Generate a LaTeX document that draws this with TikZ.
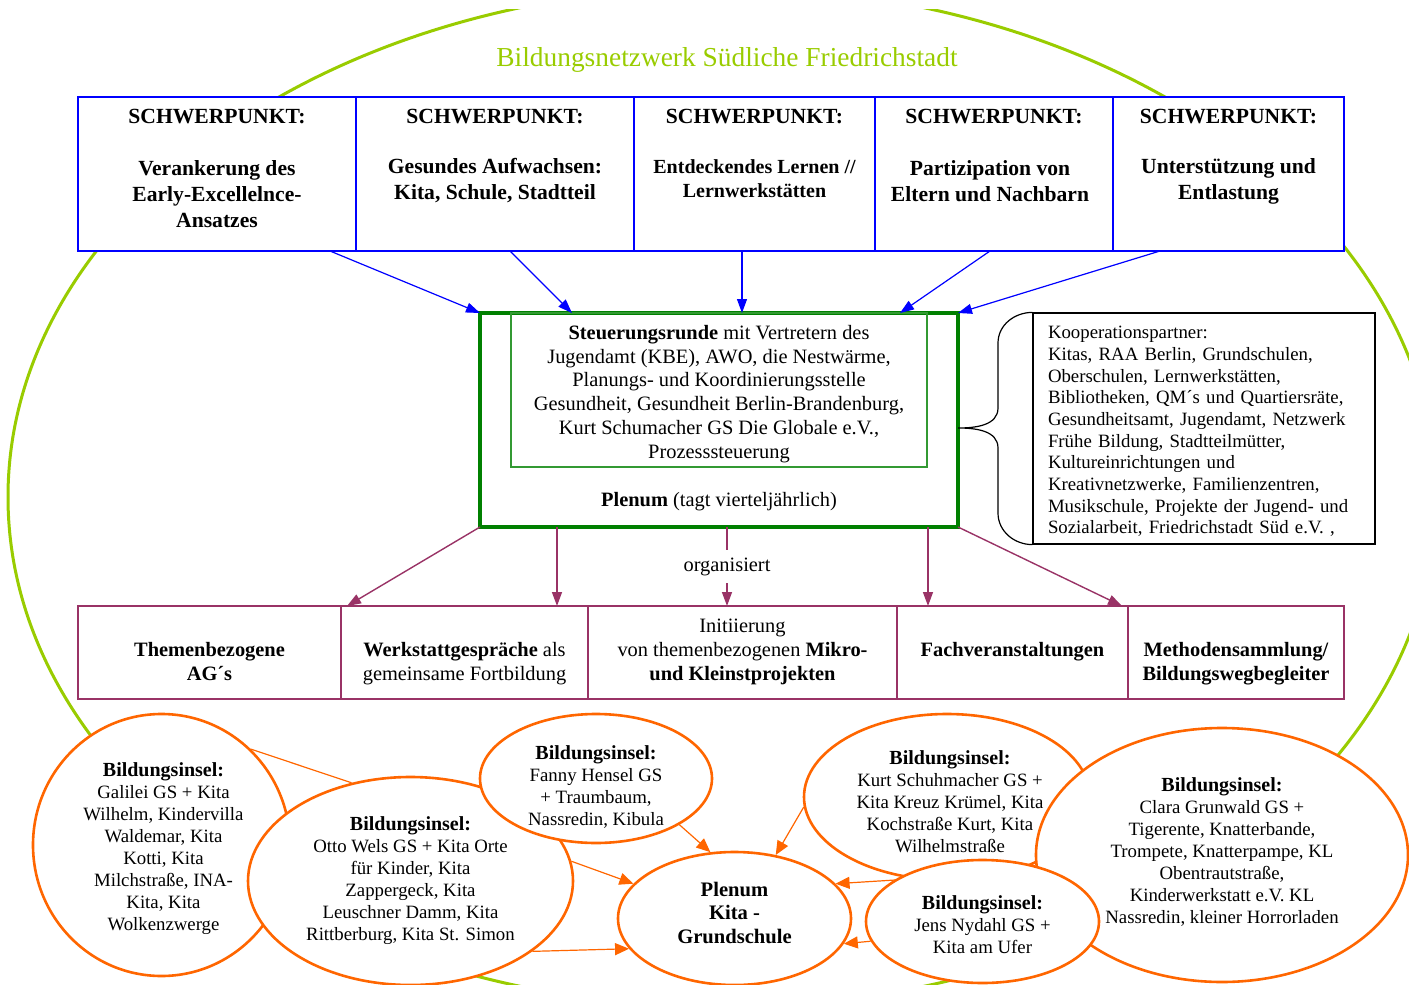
\documentclass[tikz,border=0pt]{standalone}
\usepackage{fontspec}
\setmainfont{Liberation Serif}
\usetikzlibrary{positioning, arrows.meta, shapes.geometric}

\definecolor{netgreen}{HTML}{99CC00}
\definecolor{rundegreen}{HTML}{008000}
\definecolor{steuergreen}{HTML}{339933}
\definecolor{agplum}{HTML}{993366}
\definecolor{inselorange}{HTML}{FF6600}

\begin{document}
\begin{tikzpicture}[x=0.5pt, y=-0.5pt, >={Triangle[length=7pt, width=5pt]}]

% Styles
\tikzstyle{spbox}    = [draw=blue, line width=1pt, fill=white, rectangle, minimum height=77pt, inner sep=0pt, outer sep=0pt]
\tikzstyle{sptext}   = [align=center, inner sep=0pt, font=\fontsize{10.8}{13}\selectfont\bfseries]
\tikzstyle{runde}    = [draw=rundegreen, line width=2pt, fill=white, rectangle, minimum width=239pt, minimum height=107pt, outer sep=0pt]
\tikzstyle{steuer}   = [draw=steuergreen, line width=0.75pt, rectangle, minimum width=208pt, minimum height=77pt, inner sep=0pt, outer sep=0pt]
\tikzstyle{steuertext} = [align=center, inner sep=0pt, font=\fontsize{10.2}{11.9}\selectfont]
\tikzstyle{koopbox}  = [draw, line width=0.6pt, fill=white, rectangle, minimum width=171pt, minimum height=115.5pt]
\tikzstyle{kooptext} = [text width=156pt, inner sep=0pt, align=left, font=\fontsize{9.4}{10.85}\selectfont]
\tikzstyle{cellbox}  = [draw=agplum, line width=1pt, fill=white, rectangle, minimum height=46.5pt, inner sep=0pt, outer sep=0pt]
\tikzstyle{celltext} = [align=center, inner sep=0pt, font=\fontsize{10.2}{12}\selectfont]
\tikzstyle{cellbold} = [align=center, inner sep=0pt, font=\fontsize{10.2}{12}\selectfont\bfseries]
\tikzstyle{insel}    = [ellipse, draw=inselorange, line width=1.3pt, fill=white, inner sep=0pt]
\tikzstyle{inseltext} = [align=center, inner sep=0pt, font=\fontsize{9.4}{11}\selectfont]
\tikzstyle{inselarrow} = [->, >={Triangle[length=7pt, width=6pt]}, inselorange, line width=0.6pt]

% Frame
\useasboundingbox (0,0) rectangle (1409,985);
\clip (0,0) rectangle (1409,985);

% Network outline
\begin{scope}
  \clip (0,9) rectangle (1409,985);
  \draw[netgreen, line width=1.5pt] (722,497) ellipse [x radius=714, y radius=510];
\end{scope}
\node[text=netgreen, font=\fontsize{13.7}{16}\selectfont] (title) at (727,60) {Bildungsnetzwerk Südliche Friedrichstadt};

% Schwerpunkte
\node[spbox, minimum width=139pt] (sp1) at (217,174) {};
\node[spbox, minimum width=139pt, right=0pt of sp1] (sp2) {};
\node[spbox, minimum width=120.5pt, right=0pt of sp2] (sp3) {};
\node[spbox, minimum width=119pt, right=0pt of sp3] (sp4) {};
\node[spbox, minimum width=115.5pt, right=0pt of sp4] (sp5) {};

\node[sptext] (head1) at ([yshift=-10pt]sp1.north) {SCHWERPUNKT:};
\node[sptext] (head2) at ([yshift=-10pt]sp2.north) {SCHWERPUNKT:};
\node[sptext] (head3) at ([yshift=-10pt]sp3.north) {SCHWERPUNKT:};
\node[sptext] (head4) at ([yshift=-10pt]sp4.north) {SCHWERPUNKT:};
\node[sptext] (head5) at ([yshift=-10pt]sp5.north) {SCHWERPUNKT:};

\node[sptext] (body1) at ([yshift=-48.5pt]sp1.north) {Verankerung des\\Early-Excellelnce-\\Ansatzes};
\node[sptext] (body2) at ([yshift=-42pt]sp2.north) {Gesundes Aufwachsen:\\Kita, Schule, Stadtteil};
\node[sptext, font=\fontsize{10}{12}\selectfont\bfseries] (body3) at ([yshift=-41pt]sp3.north) {Entdeckendes Lernen //\\Lernwerkstätten};
\node[sptext] (body4) at ([xshift=-2pt, yshift=-42pt]sp4.north) {Partizipation von\\Eltern und Nachbarn};
\node[sptext] (body5) at ([yshift=-42pt]sp5.north) {Unterstützung und\\Entlastung};

% Steuerungsrunde und Plenum
\node[runde] (runde) at (719,420) {};
\node[steuer, anchor=north] (steuer) at (runde.north) {};
\node[steuertext] (steuertext) at ([yshift=-2pt]steuer.center) {\textbf{Steuerungsrunde} mit Vertretern des\\Jugendamt (KBE), AWO, die Nestwärme,\\Planungs- und Koordinierungsstelle\\Gesundheit, Gesundheit Berlin-Brandenburg,\\Kurt Schumacher GS Die Globale e.V.,\\Prozesssteuerung};
\node[font=\fontsize{10.2}{12}\selectfont] (plenum) at ([yshift=12.5pt]runde.south) {\textbf{Plenum} (tagt vierteljährlich)};

% Schwerpunkte -> Steuerungsrunde
\draw[->, blue, line width=0.6pt] ([xshift=56.5pt]sp1.south) -- (runde.north west);
\draw[->, blue, line width=0.6pt] ([xshift=7.5pt]sp2.south) -- ([xshift=-73.5pt]runde.north);
\draw[->, blue, line width=0.6pt] ([xshift=-6.25pt]sp3.south) -- ([xshift=11.5pt]runde.north);
\draw[->, blue, line width=0.6pt] ([xshift=-2pt]sp4.south) -- ([xshift=90.5pt]runde.north);
\draw[->, blue, line width=0.6pt] ([xshift=-34.25pt]sp5.south) -- (runde.north east);

% Kooperationspartner
\node[koopbox] (koop) at (1204,428.5) {};
\node[kooptext] (kooptext) at ([yshift=-1.5pt]koop.center) {Kooperationspartner:\\Kitas, RAA Berlin, Grundschulen,\\Oberschulen, Lernwerkstätten,\\Bibliotheken, QM´s und Quartiersräte,\\Gesundheitsamt, Jugendamt, Netzwerk\\Frühe Bildung, Stadtteilmütter,\\Kultureinrichtungen und\\Kreativnetzwerke, Familienzentren,\\Musikschule, Projekte der Jugend- und\\Sozialarbeit, Friedrichstadt Süd e.V. ,};
\draw[line width=0.6pt] (koop.north west) to[out=180, in=90] (998,343) -- (998,408)
  to[out=-90, in=0] ([yshift=-4pt]runde.east) to[out=0, in=90] (998,448) -- (998,513)
  to[out=-90, in=180] (koop.south west);

% Angebote
\node[cellbox, minimum width=131.5pt] (c1) at (209.5,652.5) {};
\node[cellbox, minimum width=123.5pt, right=0pt of c1] (c2) {};
\node[cellbox, minimum width=154.5pt, right=0pt of c2] (c3) {};
\node[cellbox, minimum width=115.5pt, right=0pt of c3] (c4) {};
\node[cellbox, minimum width=108pt, right=0pt of c4] (c5) {};

\node[cellbold] (ct1) at ([yshift=-4.75pt]c1.center) {Themenbezogene\\AG´s};
\node[celltext] (ct2) at ([yshift=-5.75pt]c2.center) {\textbf{Werkstattgespräche} als\\gemeinsame Fortbildung};
\node[celltext] (ct3) at ([yshift=0.25pt]c3.center) {Initiierung\\von themenbezogenen \textbf{Mikro-}\\\textbf{und Kleinstprojekten}};
\node[cellbold] (ct4) at ([yshift=0.25pt]c4.center) {Fachveranstaltungen};
\node[cellbold] (ct5) at ([yshift=-5.75pt]c5.center) {Methodensammlung/\\Bildungswegbegleiter};

% Plenum -> Angebote
\draw[->, agplum, line width=0.7pt] (runde.south west) -- ([xshift=3pt]c1.north east);
\draw[->, agplum, line width=0.7pt] ([xshift=-81pt]runde.south) -- ([xshift=-81pt]runde.south |- c2.north);
\draw[->, agplum, line width=0.7pt] ([xshift=4pt]runde.south) -- node[fill=white, text=black, inner xsep=2pt, inner ysep=4pt, font=\fontsize{10.2}{12}\selectfont] (org) {organisiert} ([xshift=4pt]runde.south |- c3.north);
\draw[->, agplum, line width=0.7pt] ([xshift=104.5pt]runde.south) -- ([xshift=104.5pt]runde.south |- c4.north);
\draw[->, agplum, line width=0.7pt] (runde.south east) -- ([xshift=-3pt]c5.north west);

% Bildungsinseln
\node[insel, minimum width=128.5pt, minimum height=131pt] (galilei) at (161.5,845) {};
\node[inseltext] (galileitext) at ([xshift=1pt, yshift=-2pt]galilei.center) {{\bfseries\fontsize{10}{11}\selectfont Bildungsinsel:}\\Galilei GS + Kita\\Wilhelm, Kindervilla\\Waldemar, Kita\\Kotti, Kita\\Milchstraße, INA-\\Kita, Kita\\Wolkenzwerge};
\node[insel, minimum width=162.5pt, minimum height=104pt] (otto) at (410.5,881) {};
\node[inseltext] (ottotext) at (otto.center) {{\bfseries\fontsize{10}{11}\selectfont Bildungsinsel:}\\Otto Wels GS + Kita Orte\\für Kinder, Kita\\Zappergeck, Kita\\Leuschner Damm, Kita\\Rittberburg, Kita St. Simon};
\draw[inselorange, line width=0.6pt] (galilei.47) -- (otto.121);
\node[insel, minimum width=116pt, minimum height=64.5pt] (fanny) at (596,778.5) {};
\node[inseltext] (fannytext) at ([yshift=-4pt]fanny.center) {{\bfseries\fontsize{10}{11}\selectfont Bildungsinsel:}\\Fanny Hensel GS\\+ Traumbaum,\\Nassredin, Kibula};
\node[insel, minimum width=116.5pt, minimum height=66.5pt] (plenkg) at (734.5,918.5) {};
\node[inseltext, font=\fontsize{10.3}{11.75}\selectfont\bfseries] (plenkgtext) at ([yshift=3pt]plenkg.center) {Plenum\\Kita -\\Grundschule};
\node[insel, minimum width=143pt, minimum height=83pt] (kurt) at (947,797) {};
\node[inseltext] (kurttext) at ([xshift=1.5pt, yshift=-2.5pt]kurt.center) {{\bfseries\fontsize{10}{11}\selectfont Bildungsinsel:}\\Kurt Schuhmacher GS +\\Kita Kreuz Krümel, Kita\\Kochstraße Kurt, Kita\\Wilhelmstraße};
\node[insel, minimum width=186pt, minimum height=127pt] (clara) at (1222,855) {};
\node[inseltext] (claratext) at ([yshift=1.5pt]clara.center) {{\bfseries\fontsize{10}{11}\selectfont Bildungsinsel:}\\Clara Grunwald GS +\\Tigerente, Knatterbande,\\Trompete, Knatterpampe, KL\\Obentrautstraße,\\Kinderwerkstatt e.V. KL\\Nassredin, kleiner Horrorladen};
\draw[inselarrow] (clara.185) -- (plenkg.19);
\node[insel, minimum width=116.5pt, minimum height=61.5pt] (jens) at (982.5,921.5) {};
\node[inseltext] (jenstext) at ([yshift=-1.5pt]jens.center) {{\bfseries\fontsize{10}{11}\selectfont Bildungsinsel:}\\Jens Nydahl GS +\\Kita am Ufer};

% Inseln -> Plenum
\draw[inselarrow] (fanny.-29) -- (plenkg.110);
\draw[inselarrow] (otto.7) -- (plenkg.161);
\draw[inselarrow] (otto.-30) -- (plenkg.196);
\draw[inselarrow] (kurt.184) -- (plenkg.57);
\draw[inselarrow] (jens.190) -- (plenkg.-13);

\end{tikzpicture}
\end{document}
